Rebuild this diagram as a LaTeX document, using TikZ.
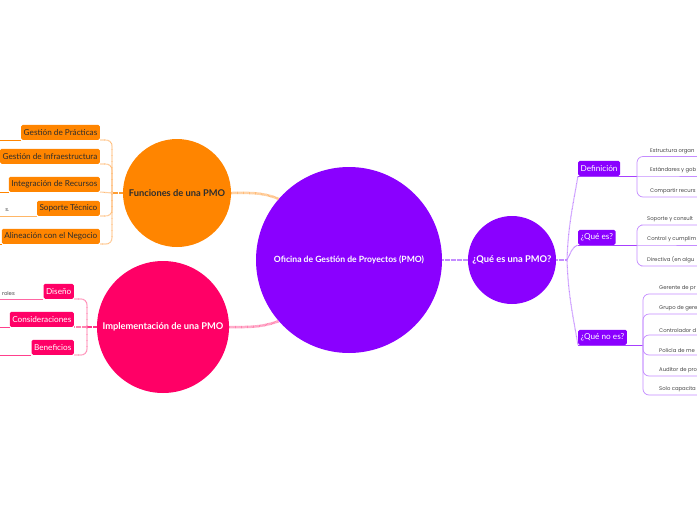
\documentclass[tikz,border=0pt]{standalone}
\usepackage{fontspec}
\setmainfont{Lato}
\newfontfamily\leaffont{Poppins}
\usetikzlibrary{positioning}
\definecolor{pmoviolet}{RGB}{138,0,255}
\definecolor{pmoorange}{RGB}{255,133,0}
\definecolor{pmopink}{RGB}{255,0,102}
\definecolor{lviolet}{RGB}{196,140,255}
\definecolor{lorange}{RGB}{255,188,120}
\definecolor{lpink}{RGB}{255,130,175}
\definecolor{darktext}{RGB}{45,45,45}
\definecolor{leafgray}{RGB}{70,70,70}
\tikzstyle{bubble}=[circle,inner sep=0pt]
\tikzstyle{tag}=[rectangle,rounded corners=1.5pt,minimum height=15pt,inner xsep=2.5pt,inner ysep=0pt,font=\fontsize{8.2}{9}\selectfont]
\tikzstyle{leaf}=[inner xsep=0pt,inner ysep=2.5pt,text=leafgray,font=\leaffont\fontsize{5.3}{6}\selectfont]
\tikzstyle{hatch}=[line width=2.5pt,dash pattern=on 0.7pt off 0.5pt]
\tikzstyle{twig}=[line width=1.1pt,dash pattern=on 0.7pt off 0.5pt]
\tikzstyle{uline}=[line width=0.7pt]
\newcommand{\bub}[1]{\fontsize{#1}{#1}\selectfont\bfseries}

\begin{document}
\begin{tikzpicture}[x=1pt,y=-1pt]
    \clip (0,0) rectangle (697,520);
    \fill[white] (0,0) rectangle (697,520);
    % circles
    \node[bubble, fill=pmoviolet, minimum size=186pt, label={[text=white, font=\bub{8.6}]center:Oficina de Gestión de Proyectos (PMO)}] (pmo) at (349,260) {};
    \node[bubble, fill=pmoorange, minimum size=108pt, label={[text=darktext, font=\bub{9.3}]center:Funciones de una PMO}] (fun) at (177,193) {};
    \node[bubble, fill=pmopink, minimum size=132pt, label={[text=white, font=\bub{9.3}]center:Implementación de una PMO}] (imp) at (163,327) {};
    \node[bubble, fill=pmoviolet, minimum size=88pt, label={[text=white, font=\bub{9.3}]center:¿Qué es una PMO?}] (que) at (512,260) {};
    % orange boxes
    \node[tag, fill=pmoorange, text=darktext, anchor=south east] (gp) at (100,140) {Gestión de Prácticas};
    \node[tag, fill=pmoorange, text=darktext, anchor=south east] (gi) at (100,164) {Gestión de Infraestructura};
    \node[tag, fill=pmoorange, text=darktext, anchor=south east] (ir) at (100,192) {Integración de Recursos};
    \node[tag, fill=pmoorange, text=darktext, anchor=south east] (st) at (100,216) {Soporte Técnico};
    \node[tag, fill=pmoorange, text=darktext, anchor=south east] (an) at (100,244) {Alineación con el Negocio};
    \node[leaf, anchor=south east] (stl) at (9.5,214) {s.};
    % pink boxes
    \node[tag, fill=pmopink, text=white, anchor=south east] (dis) at (74,299) {Diseño};
    \node[tag, fill=pmopink, text=white, anchor=south east] (con) at (74,327) {Consideraciones};
    \node[tag, fill=pmopink, text=white, anchor=south east] (ben) at (74,355) {Beneficios};
    \node[leaf, anchor=south east] (disl) at (15,298) {roles};
    % violet boxes
    \node[tag, fill=pmoviolet, text=white, anchor=south west] (def) at (578,176) {Definición};
    \node[tag, fill=pmoviolet, text=white, anchor=south west] (qes) at (578,245) {¿Qué es?};
    \node[tag, fill=pmoviolet, text=white, anchor=south west] (qno) at (578,345) {¿Qué no es?};
    % leaves
    \node[leaf, anchor=south west] (d1) at (650,156.5) {Estructura organ};
    \node[leaf, anchor=south west] (d2) at (650,176) {Estándares y gob};
    \node[leaf, anchor=south west] (d3) at (650,197) {Compartir recurs};
    \node[leaf, anchor=south west] (q1) at (647,225) {Soporte y consult};
    \node[leaf, anchor=south west] (q2) at (647,245) {Control y cumplim};
    \node[leaf, anchor=south west] (q3) at (647,266) {Directiva (en algu};
    \node[leaf, anchor=south west] (n1) at (659,294) {Gerente de pr};
    \node[leaf, anchor=south west] (n2) at (659,314) {Grupo de gere};
    \node[leaf, anchor=south west] (n3) at (659,335) {Controlador d};
    \node[leaf, anchor=south west] (n4) at (659,355) {Policía de me};
    \node[leaf, anchor=south west] (n5) at (659,376) {Auditor de pro};
    \node[leaf, anchor=south west] (n6) at (659,395) {Solo capacita};
    \coordinate (jf) at (112,193);
    \coordinate (ji) at (87,327);
    \coordinate (jq) at (567,260);
    \coordinate (jd) at (637,176);
    \coordinate (js) at (637,245);
    \coordinate (jn) at (643,345);
    % main links
    \draw[hatch, lorange] (fun.east) to[out=0, in=158] (pmo.139);
    \draw[hatch, lpink] (imp.east) to[out=0, in=200] (pmo.221);
    \draw[hatch, lviolet] (pmo.east) -- (que.west);
    % functions
    \draw[hatch, pmoorange!80] (fun.west) -- (jf);
    \draw[twig, lorange, rounded corners=6pt] (jf) |- (gp.south east);
    \draw[twig, lorange, rounded corners=6pt] (jf) |- (gi.south east);
    \draw[twig, lorange] (jf) -- (ir.south east);
    \draw[twig, lorange, rounded corners=6pt] (jf) |- (st.south east);
    \draw[twig, lorange, rounded corners=6pt] (jf) |- (an.south east);
    \draw[uline, pmoorange] (gp.south west) -- +(-40,0);
    \draw[uline, pmoorange] (gi.south west) -- +(-40,0);
    \draw[uline, pmoorange] (ir.south west) -- +(-40,0);
    \draw[uline, pmoorange!60] (st.south west) -- +(-40,0);
    \draw[uline, pmoorange] (an.south west) -- +(-40,0);
    % implementation
    \draw[hatch, pmopink!80] (imp.west) -- (ji);
    \draw[twig, lpink, rounded corners=6pt] (ji) |- (dis.south east);
    \draw[twig, lpink] (ji) -- (con.south east);
    \draw[twig, lpink, rounded corners=6pt] (ji) |- (ben.south east);
    \draw[uline, pmopink!60] (dis.south west) -- +(-50,0);
    \draw[uline, pmopink!75] (con.south west) -- +(-40,0);
    \draw[uline, pmopink!75] (ben.south west) -- +(-40,0);
    % what it is
    \draw[hatch, lviolet] (que.east) -- (jq);
    \draw[twig, lviolet] (jq) to[out=88, in=-100] (def.south west);
    \draw[twig, lviolet] (jq) to[out=60, in=200] (qes.south west);
    \draw[twig, lviolet] (jq) to[out=-88, in=100] (qno.south west);
    \draw[uline, pmoviolet!75] (def.south west) -- (jd);
    \draw[uline, pmoviolet!75] (qes.south west) -- (js);
    \draw[uline, pmoviolet!75] (qno.south west) -- (jn);
    \draw[uline, lviolet, rounded corners=6pt] (jd) |- (d1.south west) -- +(60,0);
    \draw[uline, lviolet] (jd) -- (d2.south west) -- +(60,0);
    \draw[uline, lviolet, rounded corners=6pt] (jd) |- (d3.south west) -- +(60,0);
    \draw[uline, lviolet, rounded corners=6pt] (js) |- (q1.south west) -- +(60,0);
    \draw[uline, lviolet] (js) -- (q2.south west) -- +(60,0);
    \draw[uline, lviolet, rounded corners=6pt] (js) |- (q3.south west) -- +(60,0);
    \foreach \n in {n1,n2,n3,n4,n5,n6}
        \draw[uline, lviolet, rounded corners=6pt] (jn) |- (\n.south west) -- +(60,0);
\end{tikzpicture}
\end{document}
